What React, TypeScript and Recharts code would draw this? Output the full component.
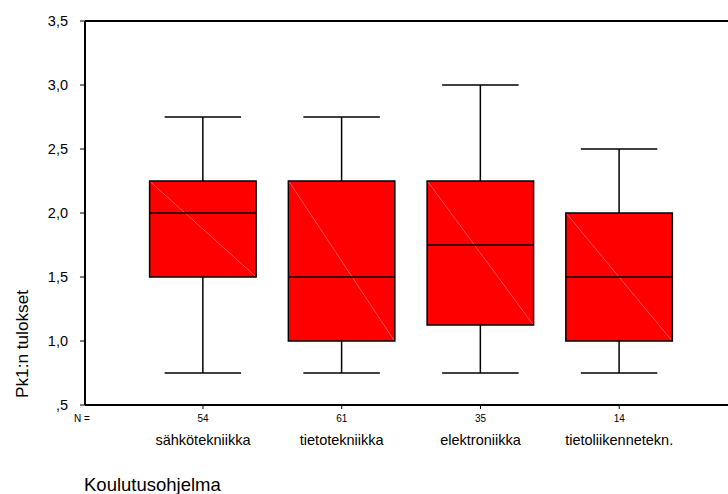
import React from "react";
import {
  ComposedChart,
  Bar,
  XAxis,
  YAxis,
  CartesianGrid,
  Label,
} from "recharts";

// box plot of Pk1 results per degree programme
const categories = ["sähkötekniikka", "tietotekniikka", "elektroniikka", "tietoliikennetekn."];
const counts = [54, 61, 35, 14];
const minima = [0.75, 0.75, 0.75, 0.75];
const lowerQuartiles = [1.5, 1.0, 1.125, 1.0];
const medians = [2.0, 1.5, 1.75, 1.5];
const upperQuartiles = [2.25, 2.25, 2.25, 2.0];
const maxima = [2.75, 2.75, 3.0, 2.5];
const yTicks = [0.5, 1, 1.5, 2, 2.5, 3, 3.5];

// stacked segments: invisible base, lower whisker, box, upper whisker
const rows = categories.map((name, i) => ({
  name,
  count: counts[i],
  q1: lowerQuartiles[i],
  median: medians[i],
  q3: upperQuartiles[i],
  base: minima[i],
  lowerWhisker: lowerQuartiles[i] - minima[i],
  box: upperQuartiles[i] - lowerQuartiles[i],
  upperWhisker: maxima[i] - upperQuartiles[i],
}));

const FONT = "'Liberation Sans', Arial, sans-serif";
const CAP = 76.5;

const fmt = (v: number) => v.toFixed(1).replace(".", ",").replace(/^0/, "");

const Empty = () => null;

const LowerWhisker = (props: any) => {
  const { x, y, width, height } = props;
  const cx = x + width / 2;
  const bottom = y + height;
  return (
    <g stroke="#000" strokeWidth={1.5}>
      <line x1={cx} y1={y} x2={cx} y2={bottom} />
      <line x1={cx - CAP / 2} y1={bottom} x2={cx + CAP / 2} y2={bottom} />
    </g>
  );
};

const UpperWhisker = (props: any) => {
  const { x, y, width, height } = props;
  const cx = x + width / 2;
  return (
    <g stroke="#000" strokeWidth={1.5}>
      <line x1={cx} y1={y} x2={cx} y2={y + height} />
      <line x1={cx - CAP / 2} y1={y} x2={cx + CAP / 2} y2={y} />
    </g>
  );
};

const BoxShape = (props: any) => {
  const { x, y, width, height, payload } = props;
  const frac = (payload.q3 - payload.median) / (payload.q3 - payload.q1);
  const my = y + height * frac;
  return (
    <g>
      <rect x={x} y={y} width={width} height={height} fill="#ff0000" stroke="#000" strokeWidth={1.5} />
      <line x1={x + 1} y1={y + 1} x2={x + width - 1} y2={y + height - 1} stroke="#ff8c8c" strokeWidth={0.6} />
      <line x1={x} y1={my} x2={x + width} y2={my} stroke="#000" strokeWidth={1.5} />
    </g>
  );
};

const CategoryTick = (props: any) => {
  const { x, y, payload, index } = props;
  return (
    <g fontFamily={FONT} fill="#000">
      <text x={x} y={y + 11} textAnchor="middle" fontSize={10}>
        {counts[index]}
      </text>
      <text x={x} y={y + 34} textAnchor="middle" fontSize={14.5}>
        {payload.value}
      </text>
    </g>
  );
};

export default function App() {
  return (
    <div style={{ width: 728, height: 494, fontFamily: FONT, overflow: "hidden" }}>
      <style>{"body { margin: 0; }"}</style>
      {/* plot area runs past the right edge, the frame is open on that side */}
      <ComposedChart
        width={744}
        height={494}
        data={rows}
        margin={{ top: 21, right: 0, bottom: 29, left: 0 }}
        barSize={106.5}
      >
        {/* top frame line along the upper edge of the plot */}
        <CartesianGrid
          vertical={false}
          stroke="#000"
          strokeWidth={2}
          horizontalCoordinatesGenerator={({ offset }: any) => [offset.top]}
        />
        <XAxis
          dataKey="name"
          height={60}
          padding={{ left: 48.6, right: 55.4 }}
          axisLine={{ stroke: "#000", strokeWidth: 2 }}
          tickLine={{ stroke: "#000" }}
          tickSize={4}
          interval={0}
          tick={<CategoryTick />}
        >
          <Label
            content={() => (
              <g fontFamily={FONT} fill="#000">
                <text x={74} y={422} fontSize={10}>
                  N =
                </text>
                <text x={84} y={490.5} fontSize={18.5}>
                  Koulutusohjelma
                </text>
              </g>
            )}
          />
        </XAxis>
        <YAxis
          type="number"
          width={85}
          domain={[0.5, 3.5]}
          allowDataOverflow
          ticks={yTicks}
          tickFormatter={fmt}
          axisLine={{ stroke: "#000", strokeWidth: 2 }}
          tickLine={{ stroke: "#000" }}
          tickSize={5}
          tickMargin={12}
          tick={{ fill: "#000", fontSize: 14.5, fontFamily: FONT }}
        >
          <Label
            content={() => (
              <text
                x={27.5}
                y={344}
                transform="rotate(-90, 27.5, 344)"
                textAnchor="middle"
                fontFamily={FONT}
                fontSize={17.2}
                fill="#000"
              >
                Pk1:n tulokset
              </text>
            )}
          />
        </YAxis>
        <Bar dataKey="base" stackId="box" shape={<Empty />} isAnimationActive={false} />
        <Bar dataKey="lowerWhisker" stackId="box" shape={<LowerWhisker />} isAnimationActive={false} />
        <Bar dataKey="box" stackId="box" shape={<BoxShape />} isAnimationActive={false} />
        <Bar dataKey="upperWhisker" stackId="box" shape={<UpperWhisker />} isAnimationActive={false} />
      </ComposedChart>
    </div>
  );
}
